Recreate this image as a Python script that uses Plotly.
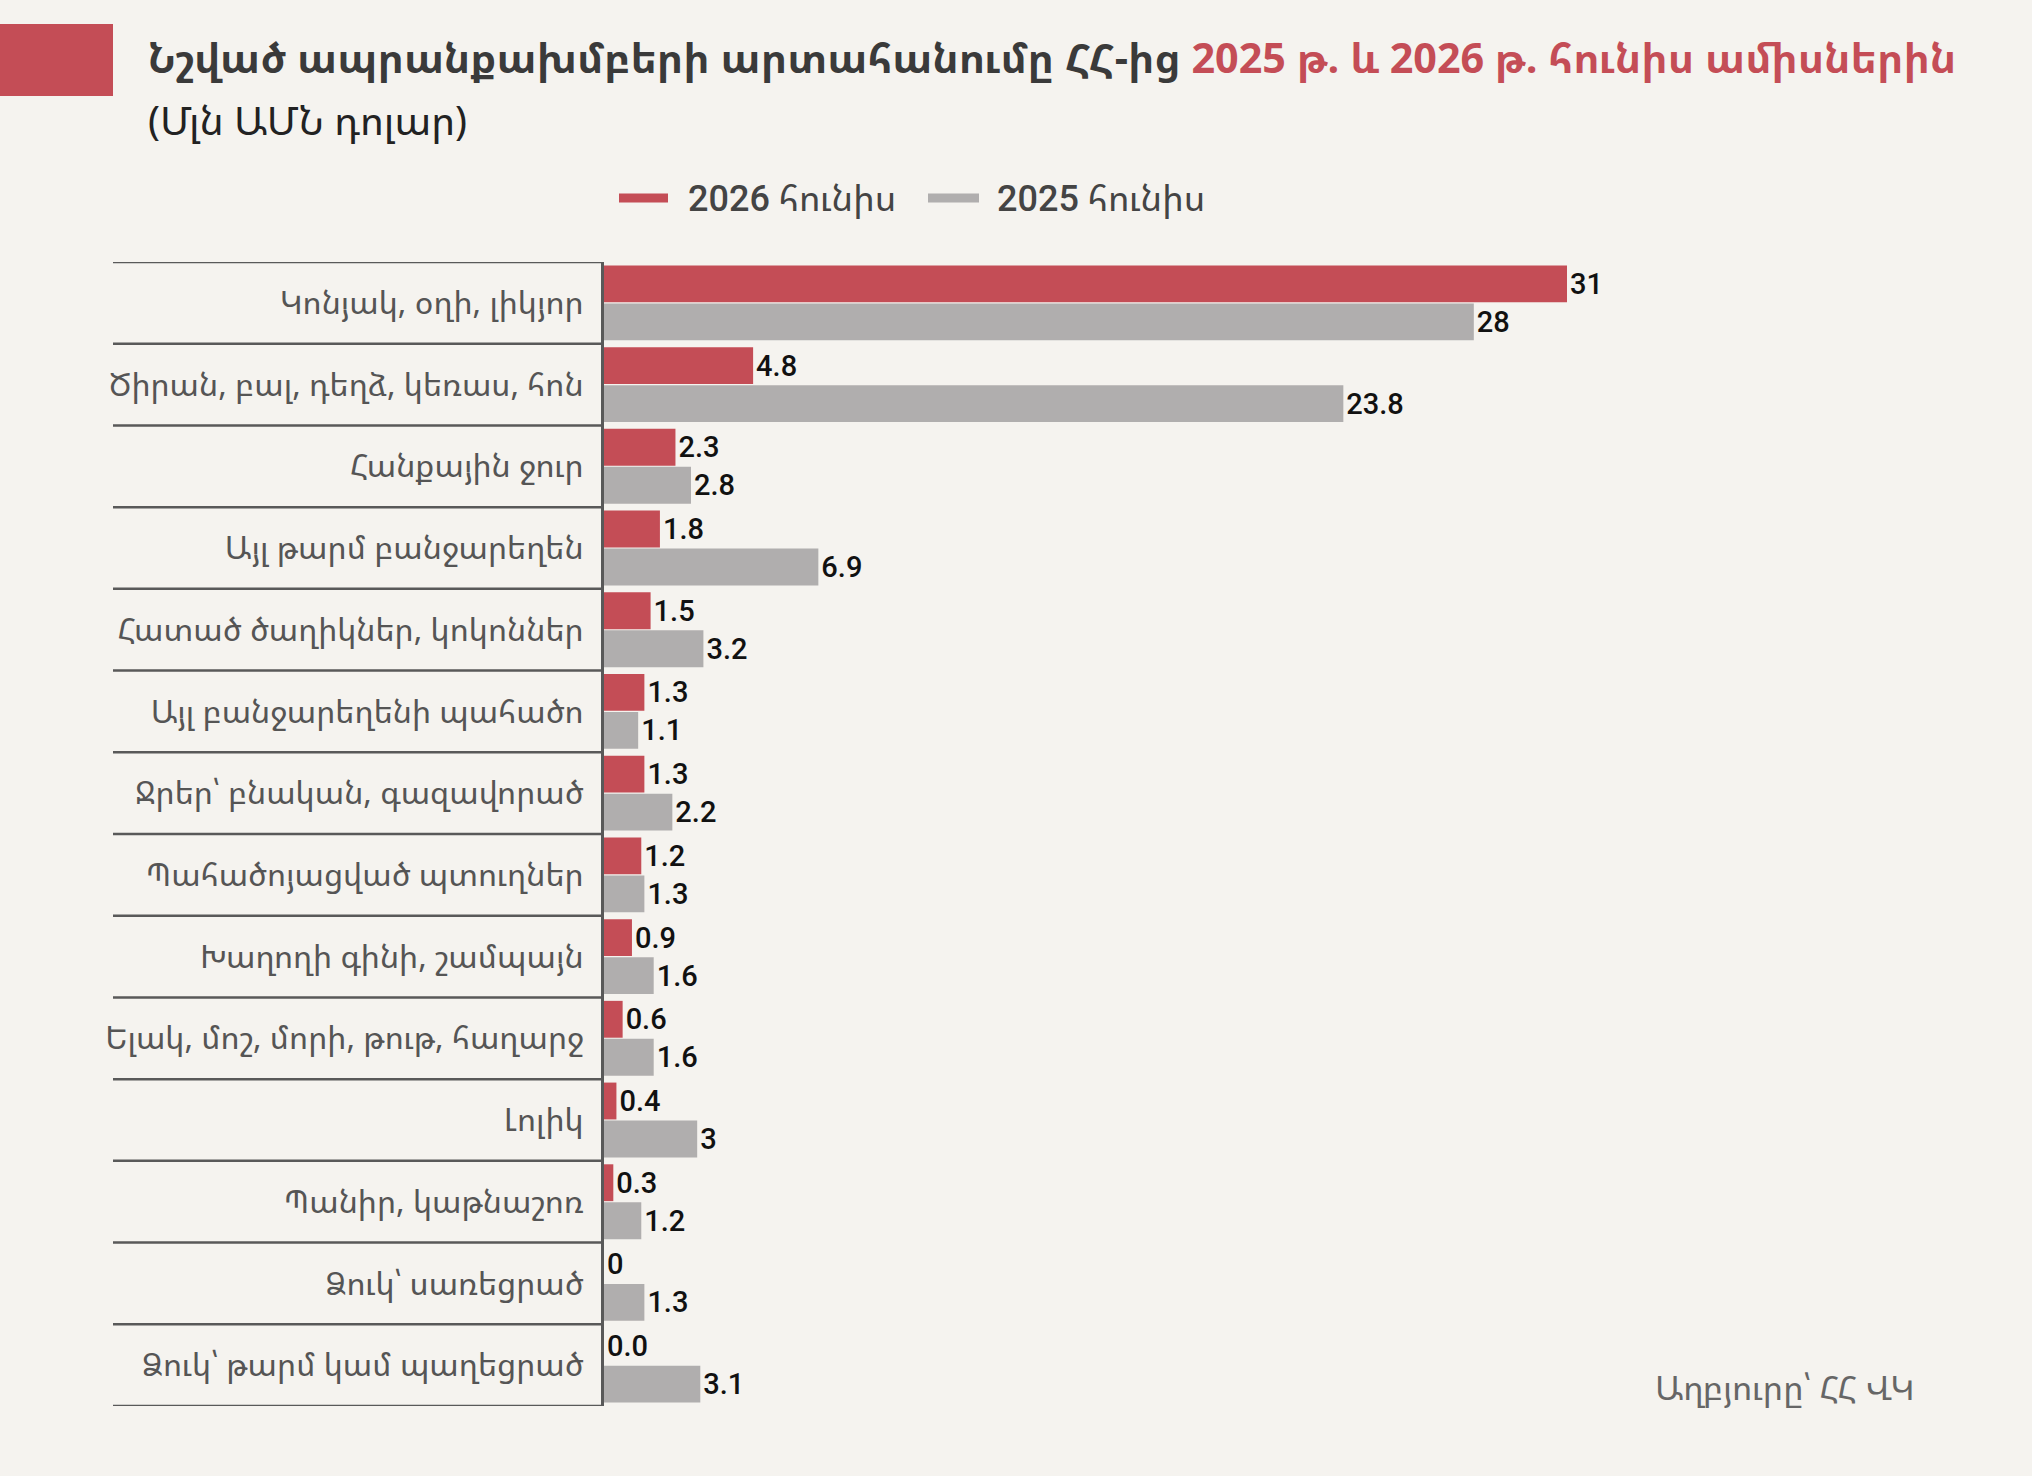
import plotly.graph_objects as go

categories = [
    "Կոնյակ, օղի, լիկյոր",
    "Ծիրան, բալ, դեղձ, կեռաս, հոն",
    "Հանքային ջուր",
    "Այլ թարմ բանջարեղեն",
    "Հատած ծաղիկներ, կոկոններ",
    "Այլ բանջարեղենի պահածո",
    "Ջրեր՝ բնական, գազավորած",
    "Պահածոյացված պտուղներ",
    "Խաղողի գինի, շամպայն",
    "Ելակ, մոշ, մորի, թութ, հաղարջ",
    "Լոլիկ",
    "Պանիր, կաթնաշոռ",
    "Ձուկ՝ սառեցրած",
    "Ձուկ՝ թարմ կամ պաղեցրած",
]
jun_2026 = [31, 4.8, 2.3, 1.8, 1.5, 1.3, 1.3, 1.2, 0.9, 0.6, 0.4, 0.3, 0, 0.0]
jun_2026_labels = ["31", "4.8", "2.3", "1.8", "1.5", "1.3", "1.3", "1.2", "0.9", "0.6", "0.4", "0.3", "0", "0.0"]
jun_2025 = [28, 23.8, 2.8, 6.9, 3.2, 1.1, 2.2, 1.3, 1.6, 1.6, 3, 1.2, 1.3, 3.1]
jun_2025_labels = ["28", "23.8", "2.8", "6.9", "3.2", "1.1", "2.2", "1.3", "1.6", "1.6", "3", "1.2", "1.3", "3.1"]
series_names = ["2026 հունիս", "2025 հունիս"]

W, H = 2032, 1476
L, R, T, B = 604, 82, 262, 70
BG = "#f5f3ef"
RED = "#c44d56"
GREY = "#b0aeae"
LINE = "#595959"
FONT = "Noto Sans Armenian, Noto Sans, DejaVu Sans, sans-serif"
NUMFONT = "Roboto, " + FONT

pw, ph = W - L - R, H - T - B
def px_x(x):
    return (x - L) / pw
def px_y(y):
    return (H - B - y) / ph

fig = go.Figure()
fig.add_trace(go.Bar(y=categories, x=jun_2026, orientation="h", name=series_names[0],
                     marker_color=RED, text=jun_2026_labels, textposition="outside",
                     cliponaxis=False))
fig.add_trace(go.Bar(y=categories, x=jun_2025, orientation="h", name=series_names[1],
                     marker_color=GREY, text=jun_2025_labels, textposition="outside",
                     cliponaxis=False))
fig.update_traces(marker_line_width=0, showlegend=False,
                  textfont=dict(family=NUMFONT, size=29, color="#111111", weight=500))

# row separators
for i in range(len(categories) + 1):
    fig.add_shape(type="line", xref="paper", yref="y", x0=px_x(113), x1=0,
                  y0=i - 0.5, y1=i - 0.5, line=dict(color=LINE, width=2.5))

# red square at top-left
fig.add_shape(type="rect", xref="paper", yref="paper", x0=px_x(0), x1=px_x(113),
              y0=px_y(96), y1=px_y(24), fillcolor=RED, line_width=0)

# legend drawn by hand: short thick lines + labels
for (x0, x1, tx), col, nm in zip([(619, 668, 686), (928, 979, 995)], [RED, GREY], series_names):
    fig.add_shape(type="line", xref="paper", yref="paper", x0=px_x(x0), x1=px_x(x1),
                  y0=px_y(198), y1=px_y(198), line=dict(color=col, width=9))
    yr, rest = nm.split(" ", 1)
    fig.add_annotation(xref="paper", yref="paper", x=px_x(tx), y=px_y(199), xanchor="left", yanchor="middle",
                       showarrow=False, font=dict(family=NUMFONT, size=36, color="#444444"),
                       text=f"<span style='font-weight:500'>{yr}</span> {rest}")

fig.add_annotation(xref="paper", yref="paper", x=px_x(146), y=px_y(57), xanchor="left", yanchor="middle",
                   showarrow=False, font=dict(family=FONT, size=41.3, color="#3a3a3a"),
                   text="<b>Նշված ապրանքախմբերի արտահանումը ՀՀ-ից "
                        f"<span style='color:{RED}'>2025 թ. և 2026 թ. հունիս ամիսներին</span></b>")
fig.add_annotation(xref="paper", yref="paper", x=px_x(146), y=px_y(120), xanchor="left", yanchor="middle",
                   showarrow=False, font=dict(family=FONT, size=40, color="#222222"),
                   text="(Մլն ԱՄՆ դոլար)")
fig.add_annotation(xref="paper", yref="paper", x=px_x(1917), y=px_y(1387), xanchor="right", yanchor="middle",
                   showarrow=False, font=dict(family=FONT, size=34, color="#666666"),
                   text="Աղբյուրը՝ ՀՀ ՎԿ")

fig.update_layout(
    width=W, height=H, margin=dict(l=L, r=R, t=T, b=B),
    paper_bgcolor=BG, plot_bgcolor=BG,
    barmode="group", bargap=0.07, bargroupgap=0.03,
    font=dict(family=FONT, color="#555555"),
    showlegend=False,
)
fig.update_xaxes(visible=False, range=[0, pw / ((1567 - L) / 31)], showgrid=False, zeroline=False)
fig.update_yaxes(range=[len(categories) - 0.5, -0.5], showgrid=False, zeroline=False,
                 showline=True, linecolor=LINE, linewidth=3, ticks="",
                 tickfont=dict(family=FONT, size=32, color="#555555"), ticklabelstandoff=11)

fig.write_html("out.html", config={"displayModeBar": False},
               post_script="document.body.style.margin='0';")
